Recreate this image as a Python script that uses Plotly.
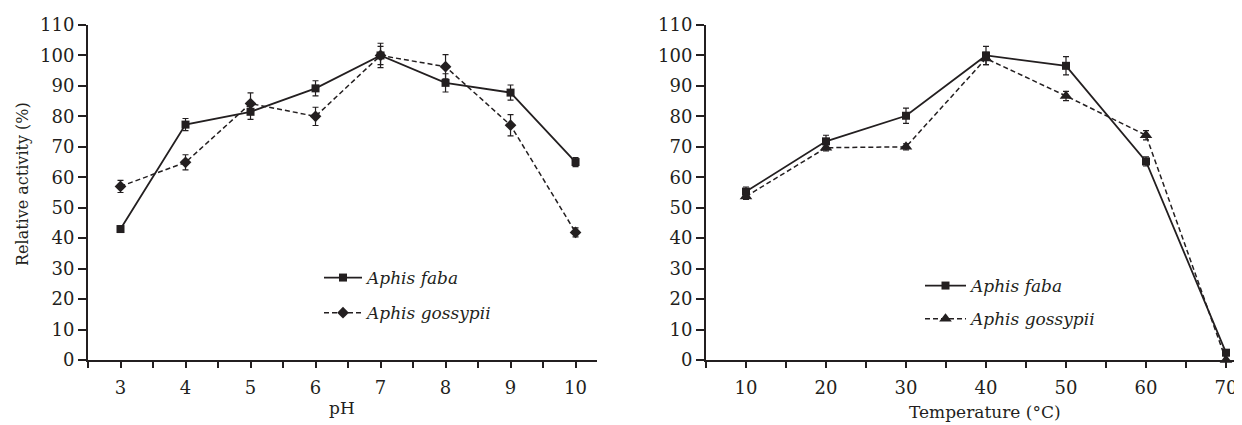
import plotly.graph_objects as go

# ---- data ----
ph = [3, 4, 5, 6, 7, 8, 9, 10]
ph_faba = [43, 77.3, 81.5, 89.2, 100, 91, 87.8, 65]
ph_faba_err = [1, 2, 2.5, 2.5, 3, 3, 2.5, 1.5]
ph_goss = [57, 64.9, 84.2, 80, 100, 96.3, 77.1, 41.9]
ph_goss_err = [2, 2.5, 3.5, 3, 4, 4, 3.5, 1.5]

temp = [10, 20, 30, 40, 50, 60, 70]
t_faba = [55.3, 71.8, 80.2, 100, 96.6, 65.2, 2.4]
t_faba_err = [1.5, 2, 2.5, 3, 3, 1.5, 1]
t_goss = [53.7, 69.7, 70, 99, 86.7, 73.8, 0]
t_goss_err = [1, 1, 1, 2, 1.5, 1.5, 0]

y_ticks = list(range(0, 111, 10))
ph_ticks = list(range(3, 11))
temp_ticks = list(range(10, 71, 10))

FONT = "DejaVu Serif"
INK = "#231f20"
W, H = 1234, 417

fig = go.Figure()

def err(v):
    return dict(type="data", array=v, visible=True, color=INK, thickness=1.2, width=3)

fig.add_trace(go.Scatter(x=ph, y=ph_faba, name="<i>Aphis faba</i>", mode="lines+markers",
                         line=dict(color=INK, width=1.8), marker=dict(symbol="square", size=8, color=INK),
                         error_y=err(ph_faba_err), xaxis="x", yaxis="y", legend="legend",
                         legendgroup="a"))
fig.add_trace(go.Scatter(x=ph, y=ph_goss, name="<i>Aphis gossypii</i>", mode="lines+markers",
                         line=dict(color=INK, width=1.5, dash="5px,3px"), marker=dict(symbol="diamond", size=9, color=INK),
                         error_y=err(ph_goss_err), xaxis="x", yaxis="y", legend="legend",
                         legendgroup="b"))
fig.add_trace(go.Scatter(x=temp, y=t_faba, name="<i>Aphis faba</i>", mode="lines+markers",
                         line=dict(color=INK, width=1.8), marker=dict(symbol="square", size=8, color=INK),
                         error_y=err(t_faba_err), xaxis="x2", yaxis="y2", legend="legend2",
                         legendgroup="c", cliponaxis=False))
fig.add_trace(go.Scatter(x=temp, y=t_goss, name="<i>Aphis gossypii</i>", mode="lines+markers",
                         line=dict(color=INK, width=1.5, dash="5px,3px"), marker=dict(symbol="triangle-up", size=11, color=INK),
                         error_y=err(t_goss_err), xaxis="x2", yaxis="y2", legend="legend2",
                         legendgroup="d", cliponaxis=False))

ydom = [65 / H, 400 / H]
axfont = dict(family=FONT, size=18, color=INK)

common_x = dict(showline=True, linecolor=INK, linewidth=2, ticks="outside", ticklen=6, tickwidth=1.5,
                tickcolor=INK, showgrid=False, zeroline=False, tickfont=axfont, automargin=False,
                ticklabelstandoff=4)
common_y = dict(showline=True, linecolor=INK, linewidth=2, ticks="outside", ticklen=8, tickwidth=1.5,
                tickcolor=INK, showgrid=False, zeroline=False, tickfont=axfont, range=[0, 110],
                tickvals=y_ticks, automargin=False)

title_font = dict(family=FONT, size=17, color=INK)

fig.update_layout(
    template="none",
    width=W, height=H,
    margin=dict(l=0, r=0, t=0, b=0),
    paper_bgcolor="white", plot_bgcolor="white",
    showlegend=True,
    xaxis=dict(**common_x, domain=[80 / W, 589 / W],
               range=[2.5, 10.33], tickvals=ph_ticks, anchor="y",
               minor=dict(dtick=0.5, tick0=2.5, ticks="outside", ticklen=6, tickwidth=1.5, tickcolor=INK)),
    yaxis=dict(**common_y, domain=ydom, anchor="x"),
    xaxis2=dict(**common_x, domain=[698 / W, 1.0],
                range=[5, 72], tickvals=temp_ticks, anchor="y2",
                minor=dict(dtick=5, tick0=5, ticks="outside", ticklen=6, tickwidth=1.5, tickcolor=INK)),
    yaxis2=dict(**common_y, domain=ydom, anchor="x2"),
    legend=dict(x=311 / W, y=(H - 252) / H, xanchor="left", yanchor="top",
                font=dict(family=FONT, size=17, color=INK), bgcolor="rgba(0,0,0,0)",
                tracegroupgap=10, traceorder="grouped", itemwidth=38),
    legend2=dict(x=912 / W, y=(H - 260) / H, xanchor="left", yanchor="top",
                 font=dict(family=FONT, size=17, color=INK), bgcolor="rgba(0,0,0,0)",
                 tracegroupgap=8, traceorder="grouped", itemwidth=41),
    annotations=[
        dict(text="Relative activity (%)", xref="paper", yref="paper", x=14 / W, y=(H - 176) / H,
             xanchor="center", yanchor="middle", textangle=-90, showarrow=False,
             font=dict(family=FONT, size=16, color=INK)),
        dict(text="pH", xref="paper", yref="paper", x=334 / W, y=(H - 400) / H,
             xanchor="center", yanchor="middle", showarrow=False, font=title_font),
        dict(text="Temperature (°C)", xref="paper", yref="paper", x=977 / W, y=(H - 404) / H,
             xanchor="center", yanchor="middle", showarrow=False, font=title_font),
    ],
)

fig.write_html("out.html")
